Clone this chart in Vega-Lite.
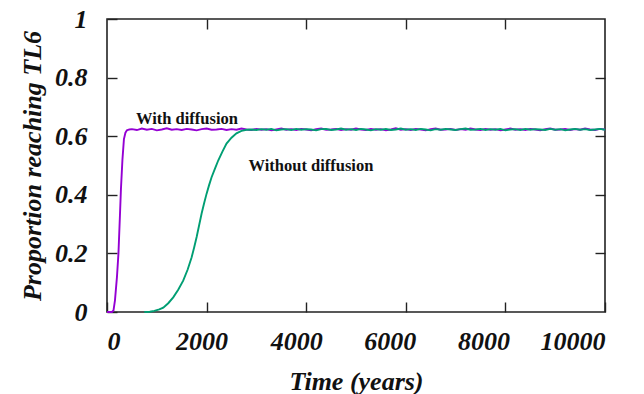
{
  "$schema": "https://vega.github.io/schema/vega-lite/v6.json",
  "width": 498,
  "height": 293,
  "autosize": "none",
  "padding": {"left": 107, "top": 19, "right": 39, "bottom": 82},
  "background": "white",
  "config": {
    "view": {"stroke": "#222222", "strokeWidth": 1.6},
    "axis": {
      "labelFont": "Liberation Serif", "labelFontWeight": "bold", "labelFontStyle": "italic",
      "labelFontSize": 26, "labelColor": "#111111",
      "titleFont": "Liberation Serif", "titleFontWeight": "bold", "titleFontStyle": "italic",
      "titleFontSize": 26, "titleColor": "#111111",
      "grid": false, "domain": false, "tickColor": "#222222", "tickWidth": 1.4, "tickSize": 10, "offset": -10, "zindex": 1
    }
  },
  "datasets": {
    "with": [
      {"t":0,"p":0},{"t":100,"p":0},{"t":130,"p":0.005},{"t":160,"p":0.04},{"t":200,"p":0.12},{"t":230,"p":0.2},{"t":260,"p":0.33},{"t":280,"p":0.42},{"t":310,"p":0.52},{"t":340,"p":0.59},{"t":370,"p":0.612},{"t":400,"p":0.62},{"t":450,"p":0.623},
      {"t":500,"p":0.624},{"t":600,"p":0.621},{"t":700,"p":0.626},{"t":800,"p":0.622},{"t":900,"p":0.625},{"t":1000,"p":0.620},{"t":1100,"p":0.623},{"t":1200,"p":0.627},{"t":1300,"p":0.622},{"t":1400,"p":0.624},
      {"t":1500,"p":0.621},{"t":1600,"p":0.625},{"t":1700,"p":0.623},{"t":1800,"p":0.620},{"t":1900,"p":0.624},{"t":2000,"p":0.626},{"t":2100,"p":0.622},{"t":2200,"p":0.623},{"t":2300,"p":0.625},{"t":2400,"p":0.621},
      {"t":2500,"p":0.624},{"t":2600,"p":0.622},{"t":2700,"p":0.626},{"t":2800,"p":0.623},{"t":2900,"p":0.621},{"t":3000,"p":0.625},{"t":3100,"p":0.622},{"t":3200,"p":0.624},{"t":3300,"p":0.620},{"t":3400,"p":0.623},
      {"t":3500,"p":0.626},{"t":3600,"p":0.622},{"t":3700,"p":0.624},{"t":3800,"p":0.621},{"t":3900,"p":0.625},{"t":4000,"p":0.623},{"t":4100,"p":0.620},{"t":4200,"p":0.624},{"t":4300,"p":0.626},{"t":4400,"p":0.622},
      {"t":4500,"p":0.623},{"t":4600,"p":0.625},{"t":4700,"p":0.621},{"t":4800,"p":0.624},{"t":4900,"p":0.622},{"t":5000,"p":0.626},{"t":5100,"p":0.623},{"t":5200,"p":0.621},{"t":5300,"p":0.625},{"t":5400,"p":0.622},
      {"t":5500,"p":0.624},{"t":5600,"p":0.620},{"t":5700,"p":0.623},{"t":5800,"p":0.627},{"t":5900,"p":0.622},{"t":6000,"p":0.624},{"t":6100,"p":0.621},{"t":6200,"p":0.625},{"t":6300,"p":0.623},{"t":6400,"p":0.620},
      {"t":6500,"p":0.624},{"t":6600,"p":0.626},{"t":6700,"p":0.622},{"t":6800,"p":0.623},{"t":6900,"p":0.625},{"t":7000,"p":0.621},{"t":7100,"p":0.624},{"t":7200,"p":0.622},{"t":7300,"p":0.626},{"t":7400,"p":0.623},
      {"t":7500,"p":0.621},{"t":7600,"p":0.625},{"t":7700,"p":0.622},{"t":7800,"p":0.624},{"t":7900,"p":0.620},{"t":8000,"p":0.623},{"t":8100,"p":0.626},{"t":8200,"p":0.622},{"t":8300,"p":0.624},{"t":8400,"p":0.621},
      {"t":8500,"p":0.625},{"t":8600,"p":0.623},{"t":8700,"p":0.620},{"t":8800,"p":0.624},{"t":8900,"p":0.626},{"t":9000,"p":0.622},{"t":9100,"p":0.623},{"t":9200,"p":0.625},{"t":9300,"p":0.621},{"t":9400,"p":0.624},
      {"t":9500,"p":0.622},{"t":9600,"p":0.626},{"t":9700,"p":0.623},{"t":9800,"p":0.621},{"t":9900,"p":0.625},{"t":10000,"p":0.623}
    ],
    "without": [
      {"t":750,"p":0},{"t":860,"p":0.001},{"t":950,"p":0.004},{"t":1050,"p":0.009},{"t":1130,"p":0.015},{"t":1230,"p":0.03},{"t":1330,"p":0.05},{"t":1430,"p":0.076},{"t":1530,"p":0.107},{"t":1620,"p":0.145},
      {"t":1700,"p":0.187},{"t":1750,"p":0.22},{"t":1800,"p":0.256},{"t":1850,"p":0.296},{"t":1900,"p":0.336},{"t":1950,"p":0.371},{"t":2000,"p":0.404},{"t":2050,"p":0.433},{"t":2100,"p":0.46},{"t":2170,"p":0.49},
      {"t":2233,"p":0.517},{"t":2320,"p":0.548},{"t":2400,"p":0.575},{"t":2500,"p":0.595},{"t":2600,"p":0.61},{"t":2700,"p":0.618},{"t":2800,"p":0.622},
      {"t":2900,"p":0.623},{"t":3000,"p":0.621},{"t":3100,"p":0.624},{"t":3200,"p":0.622},{"t":3300,"p":0.625},{"t":3400,"p":0.620},{"t":3500,"p":0.623},{"t":3600,"p":0.624},{"t":3700,"p":0.621},{"t":3800,"p":0.625},
      {"t":3900,"p":0.622},{"t":4000,"p":0.624},{"t":4100,"p":0.623},{"t":4200,"p":0.620},{"t":4300,"p":0.624},{"t":4400,"p":0.625},{"t":4500,"p":0.621},{"t":4600,"p":0.623},{"t":4700,"p":0.626},{"t":4800,"p":0.622},
      {"t":4900,"p":0.624},{"t":5000,"p":0.621},{"t":5100,"p":0.625},{"t":5200,"p":0.623},{"t":5300,"p":0.620},{"t":5400,"p":0.624},{"t":5500,"p":0.622},{"t":5600,"p":0.625},{"t":5700,"p":0.621},{"t":5800,"p":0.623},
      {"t":5900,"p":0.626},{"t":6000,"p":0.622},{"t":6100,"p":0.624},{"t":6200,"p":0.621},{"t":6300,"p":0.625},{"t":6400,"p":0.623},{"t":6500,"p":0.620},{"t":6600,"p":0.624},{"t":6700,"p":0.622},{"t":6800,"p":0.625},
      {"t":6900,"p":0.623},{"t":7000,"p":0.621},{"t":7100,"p":0.624},{"t":7200,"p":0.626},{"t":7300,"p":0.622},{"t":7400,"p":0.623},{"t":7500,"p":0.625},{"t":7600,"p":0.621},{"t":7700,"p":0.624},{"t":7800,"p":0.622},
      {"t":7900,"p":0.625},{"t":8000,"p":0.620},{"t":8100,"p":0.623},{"t":8200,"p":0.624},{"t":8300,"p":0.621},{"t":8400,"p":0.625},{"t":8500,"p":0.622},{"t":8600,"p":0.624},{"t":8700,"p":0.623},{"t":8800,"p":0.621},
      {"t":8900,"p":0.625},{"t":9000,"p":0.622},{"t":9100,"p":0.624},{"t":9200,"p":0.620},{"t":9300,"p":0.623},{"t":9400,"p":0.625},{"t":9500,"p":0.622},{"t":9600,"p":0.624},{"t":9700,"p":0.621},{"t":9800,"p":0.623},
      {"t":9900,"p":0.625},{"t":10000,"p":0.622}
    ],
    "labels": [
      {"t":1605,"p":0.659,"label":"With diffusion"},
      {"t":4095,"p":0.498,"label":"Without diffusion"}
    ]
  },
  "layer": [
    {
      "data": {"name": "with"},
      "mark": {"type": "line", "color": "#9400d3", "strokeWidth": 1.9, "interpolate": "linear"},
      "encoding": {
        "x": {"field": "t", "type": "quantitative", "scale": {"domain": [0, 10000], "nice": false},
          "axis": {"orient": "bottom", "title": "Time (years)", "values": [0, 2000, 4000, 6000, 8000, 10000], "format": "d",
            "labelPadding": 16, "titlePadding": 14,
            "labelOffset": {"condition": [
              {"test": "datum.value == 2000", "value": -5},
              {"test": "datum.value == 4000", "value": -10},
              {"test": "datum.value == 6000", "value": -16},
              {"test": "datum.value == 8000", "value": -22}
            ], "value": 0}}},
        "y": {"field": "p", "type": "quantitative", "scale": {"domain": [0, 1], "nice": false},
          "axis": {"orient": "left", "title": "Proportion reaching TL6", "values": [0, 0.2, 0.4, 0.6, 0.8, 1], "format": ".1~f",
            "labelPadding": 20, "titlePadding": 9}}
      }
    },
    {
      "data": {"name": "without"},
      "mark": {"type": "line", "color": "#009e73", "strokeWidth": 1.9},
      "encoding": {
        "x": {"field": "t", "type": "quantitative",
          "axis": {"orient": "top", "title": null, "labels": false, "values": [2000, 4000, 6000, 8000]}},
        "y": {"field": "p", "type": "quantitative",
          "axis": {"orient": "right", "title": null, "labels": false, "values": [0.2, 0.4, 0.6, 0.8]}}
      }
    },
    {
      "data": {"name": "labels"},
      "mark": {"type": "text", "font": "Liberation Serif", "fontWeight": "bold", "fontSize": 16.5, "color": "#111111", "align": "center", "baseline": "middle"},
      "encoding": {
        "x": {"field": "t", "type": "quantitative", "axis": null},
        "y": {"field": "p", "type": "quantitative", "axis": null},
        "text": {"field": "label"}
      }
    }
  ],
  "resolve": {"axis": {"x": "independent", "y": "independent"}}
}
